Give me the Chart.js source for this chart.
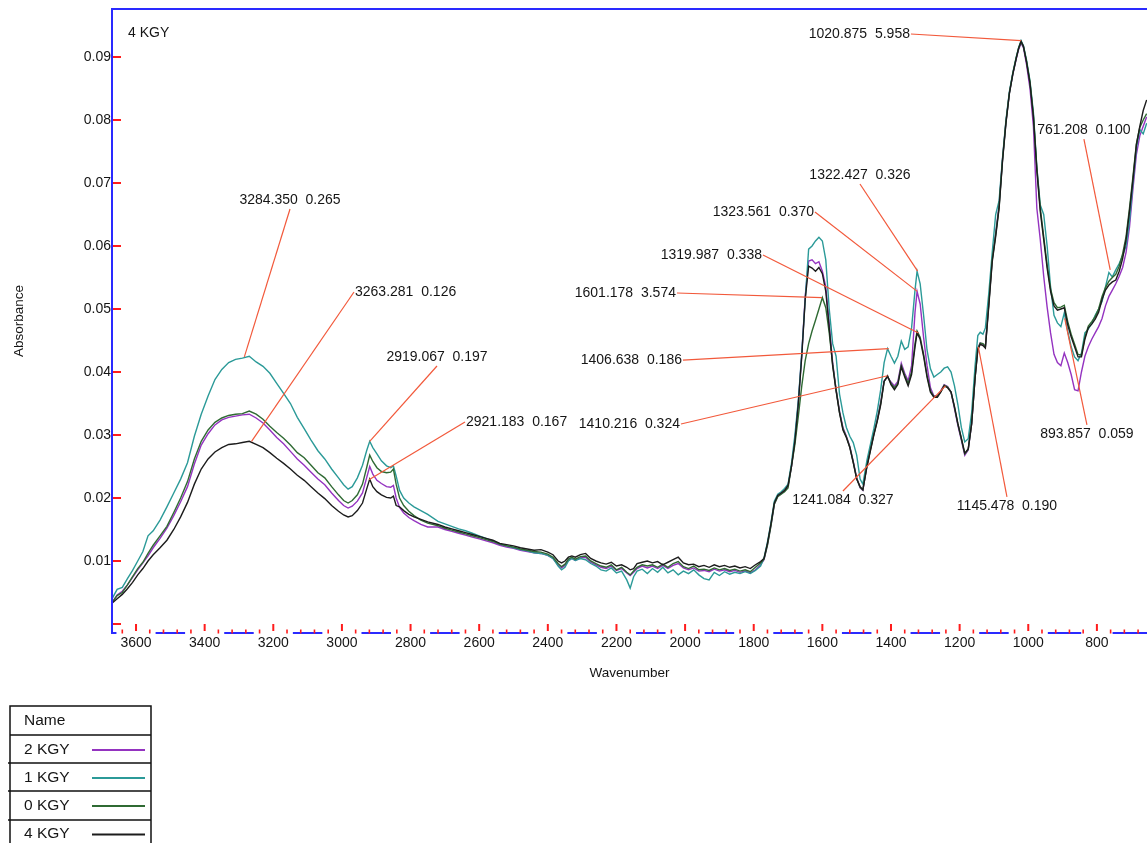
<!DOCTYPE html>
<html>
<head>
<meta charset="utf-8">
<title>4 KGY FTIR spectra</title>
<script src="https://cdn.jsdelivr.net/npm/chart.js@4.4.1/dist/chart.umd.min.js"></script>
<style>
  html, body { margin: 0; padding: 0; background: #ffffff; overflow: hidden; }
  #wrap { position: relative; width: 1147px; height: 843px; }
  canvas { display: block; }
</style>
</head>
<body>
<div id="wrap"><canvas id="chart" width="1147" height="843"></canvas></div>
<script>
// ---- spectra: wavenumber grid (cm-1) and absorbance of each sample ----
const wavenumbers = [
  3670, 3655, 3640, 3625, 3610, 3595, 3580, 3565, 3550, 3530,
  3510, 3490, 3470, 3450, 3430, 3410, 3390, 3370, 3350, 3330,
  3310, 3290, 3270, 3250, 3230, 3210, 3190, 3170, 3150, 3130,
  3110, 3090, 3070, 3050, 3030, 3010, 2995, 2982, 2970, 2955,
  2940, 2928, 2919, 2910, 2898, 2885, 2870, 2858, 2850, 2842,
  2832, 2820, 2805, 2790, 2770, 2750,
  2720, 2700, 2680, 2660, 2640, 2620, 2600, 2580, 2560, 2540, 2520, 2500, 2480, 2460, 2440, 2420, 2400,
  2385, 2370, 2360, 2350, 2340, 2330, 2320,
  2305, 2290, 2275, 2260, 2245, 2230, 2215, 2200, 2185, 2170,
  2160, 2150, 2140,
  2125, 2110, 2095, 2080, 2065, 2050, 2035, 2020, 2005, 1990, 1975, 1960, 1945, 1930, 1915, 1900, 1885, 1870, 1855, 1840, 1825, 1810, 1795, 1780,
  1770, 1760, 1750, 1740, 1730, 1720, 1710, 1700, 1690, 1680,
  1670, 1660, 1650, 1640, 1630, 1620, 1610, 1600, 1590, 1580,
  1570, 1560, 1550, 1540, 1530, 1520, 1510, 1500, 1490, 1482,
  1470, 1460, 1450, 1440, 1430, 1420, 1410, 1400, 1390, 1380,
  1370, 1360, 1350, 1340, 1330, 1324, 1315, 1305, 1295, 1285,
  1275, 1265, 1255, 1245, 1235, 1225, 1215, 1205, 1195, 1185,
  1175, 1165, 1155, 1147, 1140, 1132, 1125, 1115, 1105, 1095,
  1085, 1075, 1065, 1055, 1045, 1035, 1028, 1021, 1014,
  1005, 995, 985, 975, 965, 955, 945, 935, 925, 915,
  905, 895, 885, 875, 865, 855, 845, 835, 825, 815,
  805, 795, 785, 775, 765, 755, 745, 735, 725, 715,
  705, 695, 685, 675, 665, 655
];

const kgy2 = [
  0.0034, 0.0046, 0.0052, 0.0062, 0.0074, 0.0086, 0.0097, 0.0108, 0.0121, 0.0136,
  0.0152, 0.0172, 0.0194, 0.0218, 0.0254, 0.0284, 0.0302, 0.0316, 0.0324, 0.0328,
  0.0330, 0.0332, 0.0333, 0.0327, 0.0319, 0.0308, 0.0296, 0.0286, 0.0274, 0.0262,
  0.0252, 0.0241, 0.0230, 0.0221, 0.0208, 0.0196, 0.0188, 0.0184, 0.0187, 0.0195,
  0.0208, 0.0232, 0.0250, 0.0238, 0.0228, 0.0223, 0.0218, 0.0217, 0.0220, 0.0200,
  0.0185, 0.0176, 0.0169, 0.0164, 0.0158, 0.0154,
  0.0154, 0.0150, 0.0147, 0.0144, 0.0141, 0.0138, 0.0135, 0.0132, 0.0129, 0.0125, 0.0122, 0.0120, 0.0117, 0.0115, 0.0113, 0.0112, 0.0109,
  0.0104, 0.0094, 0.0089, 0.0093, 0.0101, 0.0104, 0.0101,
  0.0105, 0.0106, 0.0098, 0.0094, 0.0090, 0.0088, 0.0092, 0.0085, 0.0088, 0.0081,
  0.0077, 0.0082, 0.0088,
  0.0092, 0.0089, 0.0092, 0.0088, 0.0093, 0.0088, 0.0093, 0.0096, 0.0089, 0.0086, 0.0089, 0.0084, 0.0085, 0.0083, 0.0087, 0.0084, 0.0086, 0.0083, 0.0085, 0.0082, 0.0084, 0.0081, 0.0086, 0.0094,
  0.0102, 0.0126, 0.0156, 0.0190, 0.0203, 0.0207, 0.0211, 0.0219, 0.0250, 0.0292,
  0.0352, 0.0428, 0.0520, 0.0576, 0.0578, 0.0572, 0.0575, 0.0560, 0.0535, 0.0475,
  0.0415, 0.0372, 0.0338, 0.0312, 0.0298, 0.0282, 0.0258, 0.0232, 0.0216, 0.0212,
  0.0252, 0.0278, 0.0302, 0.0325, 0.0352, 0.0386, 0.0392, 0.0384, 0.0378, 0.0385,
  0.0414, 0.0398, 0.0386, 0.0410, 0.0495, 0.0528, 0.0508, 0.0455, 0.0410, 0.0375,
  0.0362, 0.0362, 0.0370, 0.0380, 0.0377, 0.0368, 0.0342, 0.0315, 0.0292, 0.0268,
  0.0276, 0.0318, 0.0392, 0.0438, 0.0446, 0.0444, 0.0440, 0.0510, 0.0580, 0.0620,
  0.0665, 0.0738, 0.0797, 0.0843, 0.0873, 0.0897, 0.0912, 0.0922, 0.0915,
  0.0888, 0.0850, 0.0790, 0.0660, 0.0610, 0.0552, 0.0503, 0.0462, 0.0428, 0.0415,
  0.0410, 0.0430, 0.0415, 0.0396, 0.0372, 0.0370, 0.0400, 0.0425, 0.0440, 0.0452,
  0.0462, 0.0472, 0.0485, 0.0505, 0.0520, 0.0530, 0.0540, 0.0552, 0.0566, 0.0590,
  0.0630, 0.0690, 0.0745, 0.0775, 0.0790, 0.0805
];

const kgy1 = [
  0.0040, 0.0055, 0.0058, 0.0072, 0.0085, 0.0100, 0.0115, 0.0140, 0.0148, 0.0165,
  0.0186, 0.0208, 0.0230, 0.0256, 0.0298, 0.0333, 0.0362, 0.0388, 0.0404, 0.0415,
  0.0420, 0.0422, 0.0425, 0.0416, 0.0409, 0.0398, 0.0382, 0.0366, 0.0350, 0.0328,
  0.0310, 0.0292, 0.0275, 0.0262, 0.0246, 0.0232, 0.0221, 0.0214, 0.0218, 0.0232,
  0.0252, 0.0275, 0.0290, 0.0280, 0.0270, 0.0259, 0.0251, 0.0248, 0.0251, 0.0235,
  0.0212, 0.0200, 0.0192, 0.0186, 0.0180, 0.0174,
  0.0163, 0.0159, 0.0155, 0.0151, 0.0148, 0.0144, 0.0140, 0.0136, 0.0132, 0.0127, 0.0124, 0.0121, 0.0118, 0.0116, 0.0113, 0.0112, 0.0109,
  0.0104, 0.0092, 0.0086, 0.0090, 0.0100, 0.0104, 0.0101,
  0.0104, 0.0102, 0.0096, 0.0092, 0.0086, 0.0084, 0.0089, 0.0081, 0.0084, 0.0070,
  0.0057, 0.0075, 0.0084,
  0.0087, 0.0080, 0.0088, 0.0082, 0.0090, 0.0081, 0.0086, 0.0078, 0.0084, 0.0080, 0.0086, 0.0078, 0.0072, 0.0070, 0.0082, 0.0077, 0.0083, 0.0079, 0.0082, 0.0080, 0.0083, 0.0080, 0.0085, 0.0092,
  0.0105, 0.0130, 0.0160, 0.0195, 0.0206, 0.0210, 0.0215, 0.0222, 0.0255, 0.0300,
  0.0355, 0.0430, 0.0515, 0.0595, 0.0600, 0.0608, 0.0614, 0.0608, 0.0578, 0.0500,
  0.0445, 0.0425, 0.0365, 0.0335, 0.0312, 0.0298, 0.0288, 0.0268, 0.0230, 0.0222,
  0.0260, 0.0285, 0.0310, 0.0338, 0.0372, 0.0415, 0.0437, 0.0425, 0.0414, 0.0425,
  0.0449, 0.0436, 0.0440, 0.0470, 0.0530, 0.0560, 0.0540, 0.0490, 0.0435, 0.0405,
  0.0392, 0.0396, 0.0400, 0.0406, 0.0408, 0.0400, 0.0378, 0.0348, 0.0312, 0.0289,
  0.0294, 0.0335, 0.0410, 0.0458, 0.0463, 0.0460, 0.0470, 0.0525, 0.0590, 0.0650,
  0.0672, 0.0740, 0.0800, 0.0845, 0.0875, 0.0900, 0.0915, 0.0926, 0.0918,
  0.0895, 0.0862, 0.0812, 0.0725, 0.0665, 0.0650, 0.0600, 0.0535, 0.0490, 0.0478,
  0.0472, 0.0494, 0.0465, 0.0440, 0.0424, 0.0418, 0.0430, 0.0462, 0.0468, 0.0477,
  0.0490, 0.0500, 0.0512, 0.0535, 0.0558, 0.0551, 0.0562, 0.0572, 0.0585, 0.0600,
  0.0640, 0.0700, 0.0755, 0.0785, 0.0778, 0.0795
];

const kgy0 = [
  0.0034, 0.0045, 0.0050, 0.0062, 0.0075, 0.0088, 0.0098, 0.0112, 0.0125, 0.0140,
  0.0155, 0.0177, 0.0200, 0.0226, 0.0262, 0.0290, 0.0308, 0.0320, 0.0327, 0.0331,
  0.0333, 0.0334, 0.0338, 0.0333, 0.0325, 0.0314, 0.0304, 0.0295, 0.0284, 0.0272,
  0.0264, 0.0252, 0.0240, 0.0232, 0.0218, 0.0205, 0.0196, 0.0192, 0.0196, 0.0205,
  0.0222, 0.0248, 0.0268, 0.0258, 0.0248, 0.0242, 0.0240, 0.0241, 0.0246, 0.0222,
  0.0200, 0.0188, 0.0179, 0.0172, 0.0165, 0.0160,
  0.0156, 0.0152, 0.0149, 0.0146, 0.0143, 0.0140, 0.0137, 0.0134, 0.0131, 0.0127, 0.0124, 0.0122, 0.0119, 0.0117, 0.0115, 0.0114, 0.0111,
  0.0106, 0.0096, 0.0091, 0.0095, 0.0103, 0.0106, 0.0103,
  0.0107, 0.0108, 0.0100, 0.0096, 0.0092, 0.0090, 0.0094, 0.0086, 0.0090, 0.0082,
  0.0078, 0.0084, 0.0090,
  0.0094, 0.0092, 0.0094, 0.0090, 0.0095, 0.0090, 0.0096, 0.0099, 0.0091, 0.0088, 0.0092, 0.0086, 0.0087, 0.0085, 0.0089, 0.0086, 0.0088, 0.0085, 0.0087, 0.0084, 0.0086, 0.0083, 0.0090, 0.0097,
  0.0103, 0.0125, 0.0155, 0.0190, 0.0202, 0.0206, 0.0210, 0.0216, 0.0250, 0.0285,
  0.0330, 0.0378, 0.0418, 0.0445, 0.0465, 0.0482, 0.0500, 0.0518, 0.0502, 0.0462,
  0.0412, 0.0372, 0.0336, 0.0310, 0.0297, 0.0281, 0.0257, 0.0231, 0.0217, 0.0213,
  0.0251, 0.0276, 0.0301, 0.0323, 0.0350, 0.0385, 0.0393, 0.0382, 0.0375, 0.0382,
  0.0410, 0.0395, 0.0382, 0.0400, 0.0445, 0.0465, 0.0455, 0.0428, 0.0395, 0.0370,
  0.0361, 0.0361, 0.0369, 0.0379, 0.0376, 0.0368, 0.0344, 0.0317, 0.0294, 0.0270,
  0.0277, 0.0318, 0.0391, 0.0437, 0.0446, 0.0445, 0.0440, 0.0508, 0.0578, 0.0618,
  0.0662, 0.0737, 0.0797, 0.0843, 0.0874, 0.0899, 0.0914, 0.0924, 0.0916,
  0.0893, 0.0860, 0.0808, 0.0724, 0.0660, 0.0615, 0.0570, 0.0532, 0.0510, 0.0502,
  0.0503, 0.0506, 0.0480, 0.0460, 0.0444, 0.0428, 0.0427, 0.0455, 0.0473, 0.0480,
  0.0488, 0.0500, 0.0520, 0.0534, 0.0544, 0.0550, 0.0555, 0.0568, 0.0588, 0.0615,
  0.0660, 0.0710, 0.0762, 0.0788, 0.0800, 0.0810
];

const kgy4 = [
  0.0033, 0.0040, 0.0047, 0.0056, 0.0066, 0.0078, 0.0088, 0.0100, 0.0110, 0.0121,
  0.0133, 0.0150, 0.0170, 0.0193, 0.0222, 0.0246, 0.0262, 0.0273, 0.0280, 0.0285,
  0.0286, 0.0288, 0.0290, 0.0285, 0.0280, 0.0272, 0.0263, 0.0255, 0.0246, 0.0236,
  0.0228, 0.0218, 0.0208, 0.0199, 0.0188, 0.0179, 0.0173, 0.0170, 0.0172, 0.0180,
  0.0192, 0.0214, 0.0230, 0.0218, 0.0210, 0.0205, 0.0201, 0.0200, 0.0203, 0.0188,
  0.0186, 0.0180, 0.0174, 0.0170, 0.0166, 0.0162,
  0.0158, 0.0154, 0.0151, 0.0148, 0.0145, 0.0142, 0.0139, 0.0136, 0.0133, 0.0128, 0.0126, 0.0124, 0.0121, 0.0119, 0.0117, 0.0118, 0.0114,
  0.0110, 0.0100, 0.0097, 0.0100, 0.0106, 0.0108, 0.0106,
  0.0110, 0.0112, 0.0104, 0.0100, 0.0097, 0.0095, 0.0098, 0.0092, 0.0094, 0.0090,
  0.0086, 0.0088, 0.0096,
  0.0098, 0.0100, 0.0097, 0.0099, 0.0094, 0.0098, 0.0102, 0.0106, 0.0097, 0.0094, 0.0095, 0.0091, 0.0093, 0.0090, 0.0094, 0.0091, 0.0093, 0.0090, 0.0092, 0.0089, 0.0091, 0.0088, 0.0094, 0.0099,
  0.0104, 0.0128, 0.0158, 0.0192, 0.0204, 0.0208, 0.0212, 0.0220, 0.0250, 0.0290,
  0.0350, 0.0425, 0.0515, 0.0568, 0.0565, 0.0560, 0.0566, 0.0556, 0.0528, 0.0470,
  0.0410, 0.0370, 0.0335, 0.0308, 0.0296, 0.0280, 0.0256, 0.0230, 0.0218, 0.0213,
  0.0250, 0.0275, 0.0300, 0.0322, 0.0348, 0.0385, 0.0394, 0.0380, 0.0372, 0.0380,
  0.0408, 0.0392, 0.0378, 0.0396, 0.0440, 0.0462, 0.0452, 0.0425, 0.0392, 0.0368,
  0.0360, 0.0360, 0.0368, 0.0378, 0.0375, 0.0368, 0.0345, 0.0318, 0.0295, 0.0271,
  0.0278, 0.0318, 0.0390, 0.0435, 0.0444, 0.0442, 0.0438, 0.0505, 0.0575, 0.0615,
  0.0660, 0.0735, 0.0795, 0.0842, 0.0873, 0.0898, 0.0914, 0.0925, 0.0917,
  0.0892, 0.0858, 0.0805, 0.0720, 0.0655, 0.0610, 0.0565, 0.0528, 0.0505, 0.0498,
  0.0500, 0.0502, 0.0475, 0.0456, 0.0440, 0.0424, 0.0424, 0.0452, 0.0470, 0.0476,
  0.0484, 0.0495, 0.0515, 0.0530, 0.0538, 0.0543, 0.0546, 0.0560, 0.0580, 0.0610,
  0.0655, 0.0705, 0.0760, 0.0790, 0.0815, 0.0832
];

const seriesNames = ['2 KGY', '1 KGY', '0 KGY', '4 KGY'];

// ---- axis ticks ----
const xTickValues = [3600, 3400, 3200, 3000, 2800, 2600, 2400, 2200, 2000, 1800, 1600, 1400, 1200, 1000, 800];
const xTickLabels = ['3600', '3400', '3200', '3000', '2800', '2600', '2400', '2200', '2000', '1800', '1600', '1400', '1200', '1000', '800'];
const yTickValues = [0, 0.01, 0.02, 0.03, 0.04, 0.05, 0.06, 0.07, 0.08, 0.09];
const yTickLabels = ['', '0.01', '0.02', '0.03', '0.04', '0.05', '0.06', '0.07', '0.08', '0.09'];

// ---- peak callouts: label text, peak wavenumber, absorbance on the curve ----
const calloutTexts = [
  '3284.350  0.265', '3263.281  0.126', '2919.067  0.197', '2921.183  0.167',
  '1410.216  0.324', '1406.638  0.186', '1601.178  3.574', '1319.987  0.338',
  '1323.561  0.370', '1322.427  0.326', '1020.875  5.958', '761.208  0.100',
  '893.857  0.059', '1145.478  0.190', '1241.084  0.327'
];
const calloutWavenumbers = [
  3284.350, 3263.281, 2919.067, 2921.183,
  1410.216, 1406.638, 1601.178, 1319.987,
  1323.561, 1322.427, 1020.875, 761.208,
  893.857, 1145.478, 1241.084
];
const calloutAbsorbance = [
  0.0424, 0.0290, 0.0290, 0.0229,
  0.0394, 0.0437, 0.0518, 0.0462,
  0.0528, 0.0560, 0.0926, 0.0562,
  0.0485, 0.0440, 0.0378
];
// where each leader line leaves its label (wavenumber, absorbance) and which side of the text it is on
const calloutAnchors = [
  [3151.3, 0.06587, 'bottom'], [2964.8, 0.05270, 'left'], [2723.0, 0.04095, 'bottom'], [2641.4, 0.03206, 'left'],
  [2012.0, 0.03175, 'right'], [2006.2, 0.04190, 'right'], [2023.7, 0.05254, 'right'], [1773.1, 0.05857, 'right'],
  [1621.6, 0.06540, 'right'], [1490.4, 0.06984, 'bottom'], [1341.8, 0.09365, 'right'], [837.8, 0.07698, 'bottom'],
  [829.0, 0.03159, 'top'], [1062.1, 0.02016, 'top'], [1540.0, 0.02111, 'top']
];

// ---- styling ----
const seriesColors = ['#9433c0', '#2b9a98', '#2f6a33', '#1c1c1c'];
const seriesDrawOrder = [3, 2, 1, 0];
const AXIS_BLUE = '#2a2aff';
const TICK_RED = '#ff1c1c';
const LEADER = '#f2593b';
const TEXT = '#151515';
const FONT_FAMILY = '"Liberation Sans", Arial, Helvetica, sans-serif';
const font = (px) => px + 'px ' + FONT_FAMILY;

const seriesValues = [kgy2, kgy1, kgy0, kgy4];

const datasets = seriesNames.map((name, i) => ({
  label: name,
  data: wavenumbers.map((w, j) => ({ x: w, y: seriesValues[i][j] })),
  borderColor: seriesColors[i],
  backgroundColor: seriesColors[i],
  borderWidth: 1.4,
  pointRadius: 0,
  tension: 0,
  fill: false,
  order: seriesDrawOrder[i]
}));

// frame, axes, callouts and the name table, drawn on top of the spectra
const decorPlugin = {
  id: 'spectrumDecor',
  afterDraw(chart) {
    const { ctx, chartArea: a, scales } = chart;
    const xs = scales.x, ys = scales.y;
    ctx.save();

    // leader lines and callout labels
    ctx.font = font(14);
    ctx.fillStyle = TEXT;
    calloutTexts.forEach((txt, i) => {
      const [aw, av, side] = calloutAnchors[i];
      const sx = xs.getPixelForValue(aw), sy = ys.getPixelForValue(av);
      const ex = xs.getPixelForValue(calloutWavenumbers[i]), ey = ys.getPixelForValue(calloutAbsorbance[i]);
      ctx.strokeStyle = LEADER;
      ctx.lineWidth = 1.2;
      ctx.beginPath();
      ctx.moveTo(sx, sy);
      ctx.lineTo(ex, ey);
      ctx.stroke();
      ctx.textBaseline = 'middle';
      if (side === 'right') { ctx.textAlign = 'right'; ctx.fillText(txt, sx - 1, sy); }
      else if (side === 'left') { ctx.textAlign = 'left'; ctx.fillText(txt, sx + 1, sy); }
      else if (side === 'bottom') { ctx.textAlign = 'center'; ctx.fillText(txt, sx, sy - 9); }
      else { ctx.textAlign = 'center'; ctx.fillText(txt, sx, sy + 9.5); }
    });

    // plot frame: left axis and top edge
    ctx.strokeStyle = AXIS_BLUE;
    ctx.lineWidth = 2;
    ctx.beginPath();
    ctx.moveTo(a.left, a.bottom + 1);
    ctx.lineTo(a.left, a.top);
    ctx.lineTo(a.right, a.top);
    ctx.stroke();

    // y ticks (pointing into the plot) and labels
    ctx.font = font(14);
    ctx.textAlign = 'right';
    ctx.textBaseline = 'middle';
    ctx.fillStyle = TEXT;
    yTickValues.forEach((v, i) => {
      const py = ys.getPixelForValue(v);
      ctx.strokeStyle = TICK_RED;
      ctx.lineWidth = 2;
      ctx.beginPath();
      ctx.moveTo(a.left + 1, py);
      ctx.lineTo(a.left + 9, py);
      ctx.stroke();
      if (yTickLabels[i]) ctx.fillText(yTickLabels[i], a.left - 1, py + 0.5);
    });

    // x axis line, broken beneath each tick label
    const gaps = xTickValues.map((v, i) => {
      const px = xs.getPixelForValue(v);
      const hw = ctx.measureText(xTickLabels[i]).width / 2 + 4;
      return [px - hw, px + hw];
    }).sort((p, q) => p[0] - q[0]);
    ctx.strokeStyle = AXIS_BLUE;
    ctx.lineWidth = 2;
    ctx.beginPath();
    let cur = a.left - 1;
    gaps.forEach(([g0, g1]) => {
      if (g0 > cur) { ctx.moveTo(cur, a.bottom); ctx.lineTo(g0, a.bottom); }
      cur = Math.max(cur, g1);
    });
    if (cur < a.right) { ctx.moveTo(cur, a.bottom); ctx.lineTo(a.right, a.bottom); }
    ctx.stroke();

    // minor ticks every 40 cm-1, major every 200 cm-1
    ctx.strokeStyle = TICK_RED;
    ctx.lineWidth = 1.6;
    ctx.beginPath();
    for (let v = 3640; v >= 680; v -= 40) {
      if (v % 200 === 0) continue;
      const px = xs.getPixelForValue(v);
      ctx.moveTo(px, a.bottom - 3.5);
      ctx.lineTo(px, a.bottom + 0.5);
    }
    ctx.stroke();
    ctx.lineWidth = 2;
    ctx.beginPath();
    xTickValues.forEach((v) => {
      const px = xs.getPixelForValue(v);
      ctx.moveTo(px, a.bottom - 9);
      ctx.lineTo(px, a.bottom - 2);
    });
    ctx.stroke();

    ctx.fillStyle = TEXT;
    ctx.textAlign = 'center';
    ctx.textBaseline = 'middle';
    xTickValues.forEach((v, i) => {
      ctx.fillText(xTickLabels[i], xs.getPixelForValue(v), a.bottom + 10);
    });

    // axis titles and the sample tag
    ctx.font = font(13.5);
    ctx.fillText('Wavenumber', (a.left + a.right) / 2, a.bottom + 40);
    ctx.save();
    ctx.translate(19, (a.top + a.bottom) / 2);
    ctx.rotate(-Math.PI / 2);
    ctx.fillText('Absorbance', 0, 0);
    ctx.restore();
    ctx.font = font(14);
    ctx.textAlign = 'left';
    ctx.fillText('4 KGY', a.left + 16, a.top + 24.5);

    // name table under the plot
    const tLeft = 10, tRight = 151, tTop = 706;
    const rowLines = [735, 763, 791, 820];
    ctx.strokeStyle = '#111111';
    ctx.lineWidth = 1.5;
    ctx.beginPath();
    ctx.moveTo(tLeft, chart.height + 2);
    ctx.lineTo(tLeft, tTop);
    ctx.lineTo(tRight, tTop);
    ctx.lineTo(tRight, chart.height + 2);
    rowLines.forEach((ry, k) => {
      ctx.moveTo(k === 0 ? tLeft : tLeft - 2, ry);
      ctx.lineTo(tRight, ry);
    });
    ctx.stroke();
    ctx.font = font(15.5);
    ctx.fillStyle = TEXT;
    ctx.textAlign = 'left';
    ctx.textBaseline = 'middle';
    ctx.fillText('Name', 24, 721);
    const rowCenters = [749.5, 777.5, 805.5, 834];
    chart.data.datasets.forEach((ds, i) => {
      ctx.fillStyle = TEXT;
      ctx.fillText(ds.label, 24, rowCenters[i]);
      ctx.strokeStyle = ds.borderColor;
      ctx.lineWidth = 1.8;
      ctx.beginPath();
      ctx.moveTo(92, rowCenters[i] + 0.5);
      ctx.lineTo(145, rowCenters[i] + 0.5);
      ctx.stroke();
    });

    ctx.restore();
  }
};

new Chart(document.getElementById('chart').getContext('2d'), {
  type: 'line',
  data: { datasets },
  options: {
    responsive: false,
    animation: false,
    devicePixelRatio: 1,
    layout: { padding: { left: 112, top: 9, right: 0, bottom: 210 } },
    plugins: { legend: { display: false }, tooltip: { enabled: false } },
    scales: {
      x: { type: 'linear', reverse: true, min: 654, max: 3670, display: false },
      y: { type: 'linear', min: -0.00143, max: 0.09762, display: false }
    }
  },
  plugins: [decorPlugin]
});
</script>
</body>
</html>
